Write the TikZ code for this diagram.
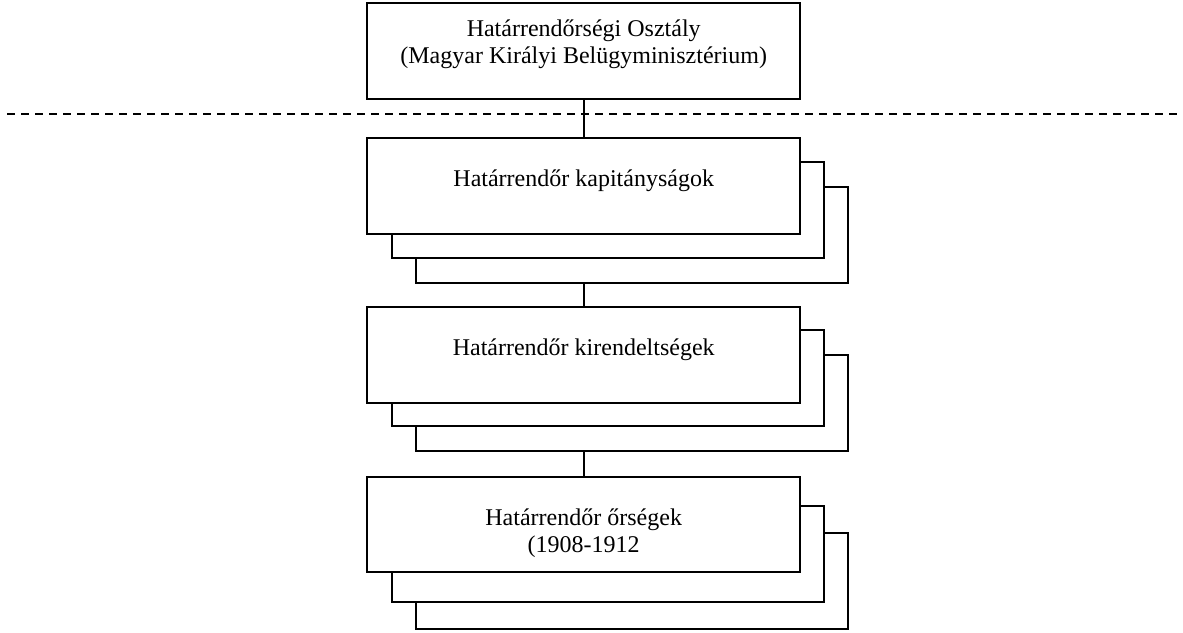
\documentclass[tikz,border=0pt]{standalone}
\usepackage{fontspec}
\setmainfont{Liberation Serif}
\begin{document}
\begin{tikzpicture}[x=1pt,y=-1pt,
  box/.style={draw=black, line width=1.7pt, fill=white, inner sep=0pt, outer sep=0pt},
  lbl/.style={font=\fontsize{24}{28}\selectfont, anchor=base, inner sep=0pt},
  conn/.style={draw=black, line width=1.7pt},
  sep/.style={draw=black, line width=1.8pt, dash pattern=on 8pt off 6pt}]
\useasboundingbox (0,0) rectangle (1183,632);
\newcommand{\rbox}[5]{\node[box, minimum width={#4-#2}, minimum height={#5-#3}] (#1) at ({(#2+#4)/2},{(#3+#5)/2}) {};}
% top box
\rbox{A}{367.3}{3.3}{800}{99.3}
\node[lbl] (tA1) at (583.7,36.7) {Határrendőrségi Osztály};
\node[lbl] (tA2) at (583.7,63.3) {(Magyar Királyi Belügyminisztérium)};
% separator
\coordinate (dl) at (7.3,114.3);
\coordinate (dr) at (1183,114.3);
\draw[sep] (dl) -- (dr);
% box B
\rbox{B2}{415.7}{186.7}{848}{282.7}
\rbox{B1}{391.7}{162.3}{823.7}{257.7}
\rbox{B}{367.3}{138.3}{800}{234}
\node[lbl] (tB) at (583.7,186.7) {Határrendőr kapitányságok};
% box C
\rbox{C2}{415.7}{355}{848}{450.7}
\rbox{C1}{391.7}{330}{823.7}{425.7}
\rbox{C}{367.3}{307.3}{800}{402.7}
\node[lbl] (tC) at (583.7,355) {Határrendőr kirendeltségek};
% box D
\rbox{D2}{415.7}{533.3}{848}{629}
\rbox{D1}{391.7}{506}{823.7}{602}
\rbox{D}{367.3}{476.7}{800}{572.3}
\node[lbl] (tD1) at (583.7,525) {Határrendőr őrségek};
\node[lbl] (tD2) at (583.7,552.7) {(1908-1912};
% connectors
\draw[conn] (A.south) -- (B.north);
\draw[conn] (B2.south -| C.north) -- (C.north);
\draw[conn] (C2.south -| D.north) -- (D.north);
\end{tikzpicture}
\end{document}
